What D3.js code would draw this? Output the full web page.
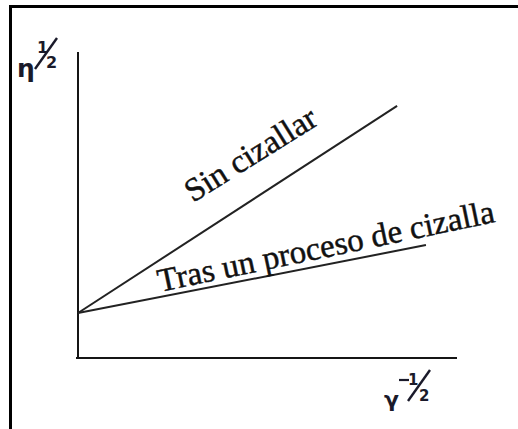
<!DOCTYPE html>
<html>
<head>
<meta charset="utf-8">
<script src="https://cdn.jsdelivr.net/npm/d3@7"></script>
<style>
  html, body { margin: 0; padding: 0; background: #fff; }
  svg { display: block; }
</style>
</head>
<body>
<svg id="chart" width="518" height="429"></svg>
<script>
// Schematic: sqrt(viscosity) against shear rate^(-1/2), before and after shearing
const seriesNames = ["Sin cizallar", "Tras un proceso de cizalla"];
const xStart = [0, 0];
const yStart = [1.47, 1.47];
const xEnd = [8.42, 9.18];
const yEnd = [8.24, 3.69];

const svg = d3.select("#chart");
const ink = "#151515";

// Frame around the figure (open to the right/bottom edge)
svg.append("path")
  .attr("d", "M10.5,440 L10.5,6.5 L530,6.5")
  .attr("fill", "none")
  .attr("stroke", "#000")
  .attr("stroke-width", 3);

const x = d3.scaleLinear().domain([0, 10]).range([78, 457]);
const y = d3.scaleLinear().domain([0, 10]).range([358, 52]);

// Axes as bare lines (no ticks)
svg.append("line")
  .attr("x1", x(0)).attr("x2", x(0))
  .attr("y1", y(0) + 1).attr("y2", y(10))
  .attr("stroke", ink).attr("stroke-width", 2);
svg.append("line")
  .attr("x1", x(0) - 2).attr("x2", x(10))
  .attr("y1", y(0)).attr("y2", y(0))
  .attr("stroke", ink).attr("stroke-width", 2);

// The two straight lines
const rows = seriesNames.map((name, i) => ({
  name,
  pts: [[xStart[i], yStart[i]], [xEnd[i], yEnd[i]]]
}));
const line = d3.line().x(d => x(d[0])).y(d => y(d[1]));
svg.selectAll("path.series").data(rows).enter().append("path")
  .attr("class", "series")
  .attr("d", d => line(d.pts))
  .attr("fill", "none")
  .attr("stroke", "#222")
  .attr("stroke-width", 2);

// Line labels, rotated along each line
const serif = "'Liberation Serif', 'Times New Roman', serif";
const labelPos = [
  { x: 193, y: 203, angle: -32 },
  { x: 160, y: 292, angle: -11.8 }
];
svg.selectAll("text.series").data(rows).enter().append("text")
  .attr("class", "series")
  .attr("transform", (d, i) => `translate(${labelPos[i].x},${labelPos[i].y}) rotate(${labelPos[i].angle})`)
  .attr("font-family", serif)
  .attr("font-size", 33)
  .attr("fill", "#111")
  .attr("stroke", "#111")
  .attr("stroke-width", 0.45)
  .text(d => d.name);

// Axis titles: eta^(1/2) and gamma^(-1/2) with slashed fractions
const sans = "'DejaVu Sans', sans-serif";
const yt = svg.append("g").attr("fill", "#1a1a2a").attr("font-family", sans).attr("font-weight", "bold");
yt.append("text").attr("x", 17).attr("y", 77).attr("font-size", 25).text("η");
yt.append("text").attr("x", 37).attr("y", 53).attr("font-size", 16).text("1");
yt.append("line").attr("x1", 35).attr("y1", 69).attr("x2", 57).attr("y2", 38)
  .attr("stroke", "#1a1a2a").attr("stroke-width", 2.4);
yt.append("text").attr("x", 46).attr("y", 68).attr("font-size", 16).text("2");

const xt = svg.append("g").attr("fill", "#1a1a2a").attr("font-family", sans).attr("font-weight", "bold");
xt.append("text").attr("x", 384).attr("y", 407).attr("font-size", 22).text("γ");
xt.append("line").attr("x1", 399).attr("y1", 380).attr("x2", 409).attr("y2", 380)
  .attr("stroke", "#1a1a2a").attr("stroke-width", 2.2);
xt.append("text").attr("x", 408).attr("y", 385).attr("font-size", 15).text("1");
xt.append("line").attr("x1", 408).attr("y1", 401).attr("x2", 430).attr("y2", 370)
  .attr("stroke", "#1a1a2a").attr("stroke-width", 2.4);
xt.append("text").attr("x", 419).attr("y", 401).attr("font-size", 15).text("2");
</script>
</body>
</html>
